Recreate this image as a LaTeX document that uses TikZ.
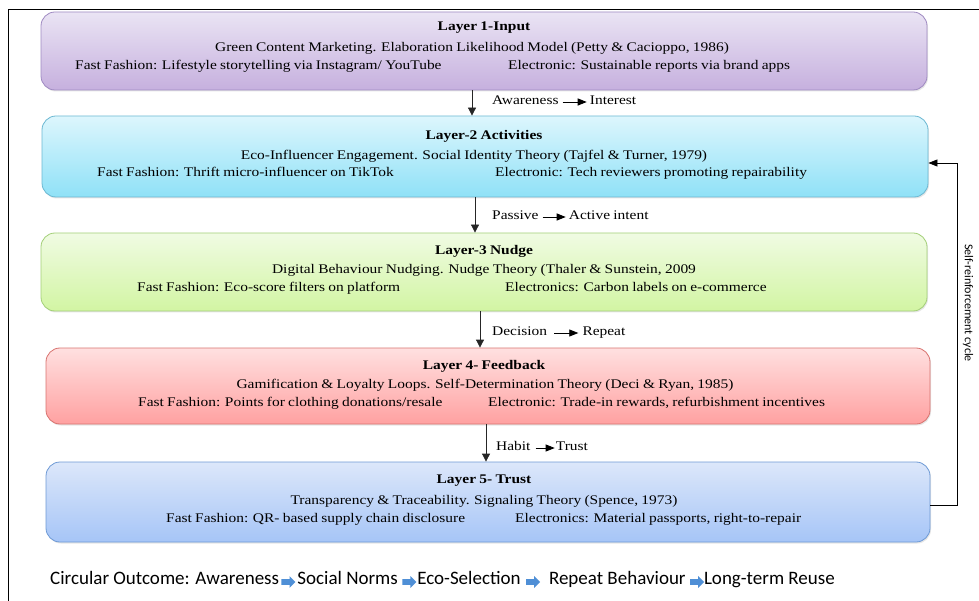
\documentclass[tikz,border=0pt]{standalone}
\usepackage{fontspec}
\setmainfont[FakeStretch=1.17,WordSpace=0.85]{Liberation Serif}
\newfontfamily\carlito{Carlito}
\usepackage{tikz}
\usetikzlibrary{arrows.meta,positioning,shadows,shapes.arrows}

%% layer colours (top shade, bottom shade, border)
\definecolor{inputTop}{HTML}{EAE4F4}
\definecolor{inputBot}{HTML}{C6B0DE}
\definecolor{inputLine}{HTML}{9F8AC2}
\definecolor{actTop}{HTML}{DDF6FD}
\definecolor{actBot}{HTML}{8FE1F7}
\definecolor{actLine}{HTML}{6CB8D2}
\definecolor{nudgeTop}{HTML}{F0FBE3}
\definecolor{nudgeBot}{HTML}{D2F5A3}
\definecolor{nudgeLine}{HTML}{A3CF78}
\definecolor{feedTop}{HTML}{FFE0E0}
\definecolor{feedBot}{HTML}{FFA1A1}
\definecolor{feedLine}{HTML}{D8736F}
\definecolor{trustTop}{HTML}{DCE7FA}
\definecolor{trustBot}{HTML}{A6C5F7}
\definecolor{trustLine}{HTML}{6E9AD5}
\definecolor{outBlue}{HTML}{4F8FD6}

\begin{document}
\begin{tikzpicture}[x=1pt,y=-1pt,
    layerbox/.style={rounded corners=14pt,line width=.8pt,minimum width=886pt,minimum height=78pt,
      drop shadow={opacity=.2,shadow xshift=1pt,shadow yshift=-1.5pt}},
    ltitle/.style={font=\fontsize{13.2}{15}\selectfont\bfseries,inner sep=0pt},
    ltext/.style={font=\fontsize{13.2}{15}\selectfont,inner sep=0pt},
    flow/.style={draw=black!85,line width=.8pt,-{Triangle[length=8pt,width=8pt]}},
    tag/.style={font=\fontsize{13.2}{15}\selectfont,inner sep=0pt},
    tagarrow/.style={line width=.8pt,-{Triangle[length=9pt,width=7pt]}},
    outtext/.style={font=\carlito\fontsize{19}{21}\selectfont,inner sep=0pt},
    outarrow/.style={single arrow,fill=outBlue,inner sep=2.6pt,minimum height=14pt,
      single arrow head extend=3pt}]

  \useasboundingbox (0,0) rectangle (979,601);

  %%%% frame %%%%
  \draw[line width=.8pt] (979,9) -- (8,9) -- (8,601);

  %%%% the five layers %%%%
  \node[layerbox,draw=inputLine,top color=inputTop,bottom color=inputBot] (L1) at (484,51) {};
  \node[layerbox,draw=actLine,top color=actTop,bottom color=actBot,minimum height=81pt] (L2) at (485,156.5) {};
  \node[layerbox,draw=nudgeLine,top color=nudgeTop,bottom color=nudgeBot] (L3) at (484,272) {};
  \node[layerbox,draw=feedLine,top color=feedTop,bottom color=feedBot,minimum width=884pt,minimum height=76pt] (L4) at (488,386) {};
  \node[layerbox,draw=trustLine,top color=trustTop,bottom color=trustBot,minimum width=884pt,minimum height=80pt] (L5) at (488,502) {};

  %% Layer 1
  \node[ltitle] (t1) at (484,28) {Layer 1-Input};
  \node[ltext] (m1) at (472,48) {Green Content Marketing. Elaboration Likelihood Model (Petty \& Cacioppo, 1986)};
  \node[ltext,anchor=mid west] (f1) at (75,67) {Fast Fashion: Lifestyle storytelling via Instagram/ YouTube};
  \node[ltext,anchor=mid west] (e1) at (508,67) {Electronic: Sustainable reports via brand apps};

  %% Layer 2
  \node[ltitle] (t2) at (484,136) {Layer-2 Activities};
  \node[ltext] (m2) at (474,156) {Eco-Influencer Engagement. Social Identity Theory (Tajfel \& Turner, 1979)};
  \node[ltext,anchor=mid west] (f2) at (97,174) {Fast Fashion: Thrift micro-influencer on TikTok};
  \node[ltext,anchor=mid west] (e2) at (495,174) {Electronic: Tech reviewers promoting repairability};

  %% Layer 3
  \node[ltitle] (t3) at (484,251) {Layer-3 Nudge};
  \node[ltext] (m3) at (484,270) {Digital Behaviour Nudging. Nudge Theory (Thaler \& Sunstein, 2009};
  \node[ltext,anchor=mid west] (f3) at (137,289) {Fast Fashion: Eco-score filters on platform};
  \node[ltext,anchor=mid west] (e3) at (505,289) {Electronics: Carbon labels on e-commerce};

  %% Layer 4
  \node[ltitle] (t4) at (484,366) {Layer 4- Feedback};
  \node[ltext] (m4) at (485,385) {Gamification \& Loyalty Loops. Self-Determination Theory (Deci \& Ryan, 1985)};
  \node[ltext,anchor=mid west] (f4) at (138,404) {Fast Fashion: Points for clothing donations/resale};
  \node[ltext,anchor=mid west] (e4) at (488,404) {Electronic: Trade-in rewards, refurbishment incentives};

  %% Layer 5
  \node[ltitle] (t5) at (484,481) {Layer 5- Trust};
  \node[ltext] (m5) at (484,501) {Transparency \& Traceability. Signaling Theory (Spence, 1973)};
  \node[ltext,anchor=mid west] (f5) at (166,520) {Fast Fashion: QR- based supply chain disclosure};
  \node[ltext,anchor=mid west] (e5) at (515,520) {Electronics: Material passports, right-to-repair};

  %%%% flow between layers %%%%
  \coordinate (a1) at (472,0);
  \coordinate (a2) at (475,0);
  \coordinate (a3) at (480,0);
  \coordinate (a4) at (486,0);
  \draw[flow] (L1.south -| a1) -- (L2.north -| a1);
  \draw[flow] (L2.south -| a2) -- (L3.north -| a2);
  \draw[flow] (L3.south -| a3) -- (L4.north -| a3);
  \draw[flow] (L4.south -| a4) -- (L5.north -| a4);

  %% labels on the flow
  \node[tag,anchor=mid west] (aw) at (492,102) {Awareness};
  \node[tag,base right=31pt of aw] (ir) {Interest};
  \draw[tagarrow] ([xshift=4pt]aw.mid east) -- ([xshift=-3pt]ir.mid west);

  \node[tag,anchor=mid west] (pa) at (492,217) {Passive};
  \node[tag,base right=30pt of pa] (ai) {Active intent};
  \draw[tagarrow] ([xshift=4pt]pa.mid east) -- ([xshift=-3pt]ai.mid west);

  \node[tag,anchor=mid west] (de) at (492,333) {Decision};
  \node[tag,base right=35pt of de] (rp) {Repeat};
  \draw[tagarrow] ([xshift=7pt]de.mid east) -- ([xshift=-4pt]rp.mid west);

  \node[tag,anchor=mid west] (hb) at (496,448) {Habit};
  \node[tag,base right=25pt of hb] (tr) {Trust};
  \draw[tagarrow] ([xshift=5pt]hb.mid east) -- ([xshift=-1pt]tr.mid west);

  %%%% self-reinforcement loop %%%%
  \draw[line width=.8pt,-{Triangle[length=9pt,width=7pt]}] ([yshift=-3pt]L5.east) -- ++(27,0) |- ([yshift=-6.5pt]L2.east);
  \node[font=\carlito\fontsize{12}{14}\selectfont,rotate=-90] (cyc) at (968,303) {Self-reinforcement cycle};

  %%%% circular outcome %%%%
  \node[outtext,anchor=mid west] (o1) at (50,582) {Circular Outcome: Awareness};
  \node[outtext,base right=18pt of o1] (o2) {Social Norms};
  \node[outtext,base right=19pt of o2] (o3) {Eco-Selection};
  \node[outtext,base right=28pt of o3] (o4) {Repeat Behaviour};
  \node[outtext,base right=18pt of o4] (o5) {Long-term Reuse};
  \node[outarrow,anchor=west] (r1) at ([xshift=2pt]o1.mid east) {};
  \node[outarrow,anchor=west] (r2) at ([xshift=4pt]o2.mid east) {};
  \node[outarrow,anchor=west] (r3) at ([xshift=5pt]o3.mid east) {};
  \node[outarrow,anchor=west] (r4) at ([xshift=4pt]o4.mid east) {};

\end{tikzpicture}
\end{document}
